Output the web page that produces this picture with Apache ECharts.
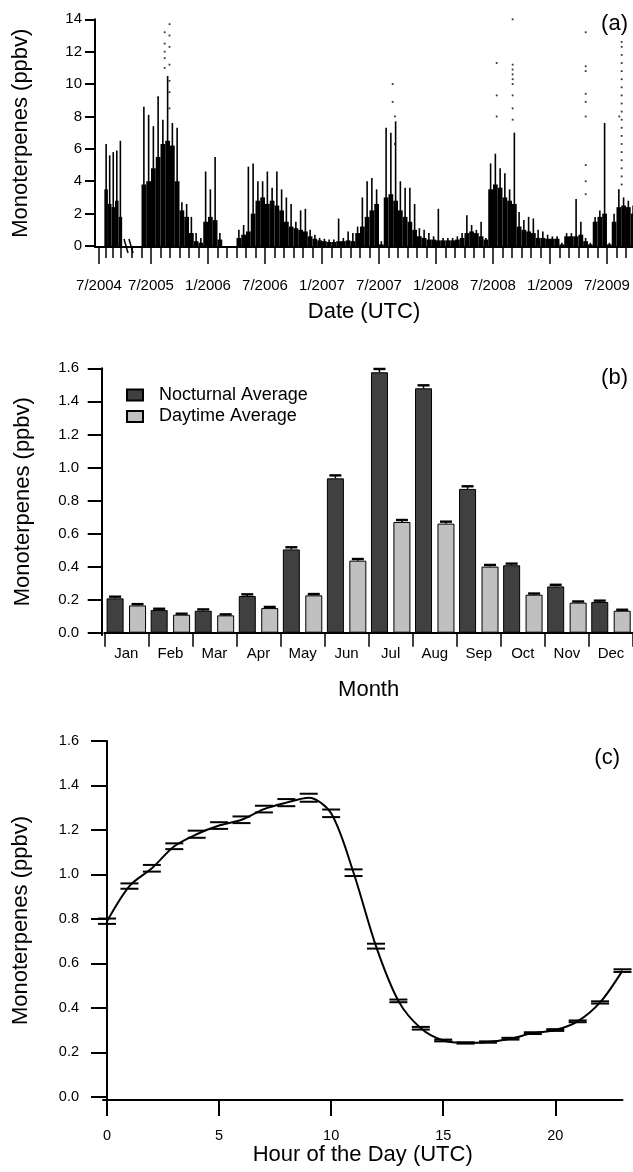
<!DOCTYPE html>
<html>
<head>
  <meta charset="utf-8">
  <script src="https://cdn.jsdelivr.net/npm/echarts@6/dist/echarts.min.js"></script>
  <style>
    html, body { margin: 0; background: #fff; }
    #chart { width: 633px; height: 1172px; }
  </style>
</head>
<body>
<div id="chart"></div>
<script>
// ---- (a) time series, month positions counted from Jan 2004 (7/2005 = 18)
// 2004 block, half-month bins (before the axis break)
var a2004Months = [7.0, 7.5, 8.0, 8.5, 9.0];
var a2004Bulk = [3.5, 2.6, 2.4, 2.8, 1.8];
var a2004Peak = [6.3, 5.6, 5.8, 5.9, 6.5];
// May 2005 onwards, half-month bins starting at 17.25
var aFirstBin = 17.25;
var aBulk = [
  3.8, 4.0, 4.8, 5.5, 6.3, 6.5, 6.2, 4.0, 2.2, 1.8,
  0.8, 0.3, 0.2, 1.5, 1.8, 1.6, 0.4, 0, 0, 0,
  0.5, 0.7, 0.9, 2.0, 2.8, 3.0, 2.6, 2.8, 2.5, 2.2,
  1.5, 1.2, 1.1, 1.0, 0.9, 0.6, 0.45, 0.35, 0.3, 0.25,
  0.25, 0.3, 0.3, 0.35, 0.3, 0.8, 1.2, 1.8, 2.2, 2.6,
  0.1, 3.0, 3.2, 2.8, 2.2, 1.8, 1.5, 1.0, 0.6, 0.5,
  0.4, 0.4, 0.35, 0.35, 0.35, 0.35, 0.4, 0.5, 0.8, 0.9,
  0.8, 0.6, 0.4, 3.5, 3.8, 3.6, 3.0, 2.8, 2.6, 1.2,
  1.0, 0.9, 0.8, 0.5, 0.5, 0.45, 0.45, 0.45, 0.1, 0.6,
  0.6, 0.6, 0.7, 0.3, 0.1, 1.5, 1.8, 2.0, 0.1, 1.5,
  2.4, 2.5, 2.4, 2.0
];
var aPeak = [
  8.6, 8.1, 7.4, 9.2, 7.8, 10.5, 7.6, 7.3, 2.7, 2.6,
  1.8, 0.8, 0.5, 4.6, 3.5, 5.5, 0.8, 0, 0, 0,
  1.0, 1.3, 4.9, 5.1, 4.0, 4.0, 4.6, 3.6, 4.6, 3.5,
  3.0, 2.6, 1.5, 2.2, 2.3, 1.0, 0.7, 0.5, 0.45, 0.4,
  0.4, 1.7, 0.5, 0.9, 0.8, 1.2, 3.0, 4.0, 4.2, 3.5,
  0.3, 7.3, 7.0, 7.7, 4.0, 3.6, 3.6, 2.6, 1.1, 1.0,
  0.8, 0.6, 2.3, 0.5, 0.5, 0.5, 0.6, 0.8, 1.9, 1.3,
  1.0, 1.5, 0.5, 5.1, 5.7, 4.8, 4.5, 3.5, 7.0, 2.1,
  1.6, 1.8, 1.7, 1.0, 0.9, 0.7, 0.6, 0.6, 0.2, 0.8,
  0.8, 2.9, 1.5, 0.5, 0.2, 1.8, 2.2, 7.6, 0.2, 2.0,
  3.5, 3.0, 2.8, 2.5
];
// isolated high readings [month, ppbv]
var aDots = [
  [18.74, 9.2],
  [19.44, 11.0], [19.44, 11.6], [19.44, 12.0], [19.44, 12.5], [19.44, 13.2],
  [19.95, 8.5], [19.95, 9.5], [19.95, 10.2], [19.95, 11.2], [19.95, 12.3], [19.95, 13.0], [19.95, 13.7],
  [43.44, 10.0], [43.44, 8.9], [43.68, 8.0], [43.68, 6.3],
  [54.39, 11.3], [54.39, 9.3], [54.39, 8.0],
  [56.07, 14.0], [56.07, 11.2], [56.07, 10.9], [56.07, 10.6], [56.07, 10.3], [56.07, 10.0], [56.07, 9.3], [56.07, 8.5], [56.07, 7.8],
  [63.76, 13.2], [63.76, 11.1], [63.76, 10.8], [63.76, 9.4], [63.76, 8.9], [63.76, 8.0], [63.76, 5.0], [63.76, 4.0], [63.76, 3.2],
  [67.3, 8.0],
  [67.55, 12.6], [67.55, 12.3], [67.55, 11.8], [67.55, 11.3], [67.55, 10.8], [67.55, 10.3], [67.55, 9.8],
  [67.55, 9.3], [67.55, 8.8], [67.55, 8.3], [67.55, 7.8], [67.55, 7.3], [67.55, 6.8], [67.55, 6.3],
  [67.55, 5.8], [67.55, 5.3], [67.55, 4.8], [67.55, 4.3], [67.55, 3.8]
];
var aLabelMonths = [6, 18, 24, 30, 36, 42, 48, 54, 60, 66];
var aLabels = ['7/2004', '7/2005', '1/2006', '7/2006', '1/2007', '7/2007', '1/2008', '7/2008', '1/2009', '7/2009'];
var aMinorMonths = [7, 8, 9];
for (var mm = 16; mm <= 68; mm++) aMinorMonths.push(mm);
var aTicksY = [0, 2, 4, 6, 8, 10, 12, 14];

// ---- (b) monthly averages
var months = ['Jan', 'Feb', 'Mar', 'Apr', 'May', 'Jun', 'Jul', 'Aug', 'Sep', 'Oct', 'Nov', 'Dec'];
var nocturnal = [0.208, 0.137, 0.133, 0.222, 0.504, 0.934, 1.576, 1.479, 0.870, 0.408, 0.280, 0.186];
var nocturnalErr = [0.010, 0.008, 0.008, 0.010, 0.013, 0.018, 0.020, 0.018, 0.016, 0.010, 0.010, 0.008];
var daytime = [0.165, 0.109, 0.105, 0.149, 0.226, 0.436, 0.670, 0.660, 0.400, 0.230, 0.182, 0.133];
var daytimeErr = [0.008, 0.006, 0.006, 0.007, 0.008, 0.010, 0.012, 0.012, 0.010, 0.007, 0.007, 0.006];
var bTicksY = [0, 0.2, 0.4, 0.6, 0.8, 1.0, 1.2, 1.4, 1.6];

// ---- (c) diurnal cycle
var hours = [0, 1, 2, 3, 4, 5, 6, 7, 8, 9, 10, 11, 12, 13, 14, 15, 16, 17, 18, 19, 20, 21, 22, 23];
var diurnal = [0.790, 0.948, 1.028, 1.127, 1.181, 1.220, 1.246, 1.294, 1.323, 1.345, 1.275, 1.008,
  0.678, 0.432, 0.309, 0.254, 0.243, 0.247, 0.262, 0.287, 0.301, 0.340, 0.425, 0.568];
var diurnalErr = [0.012, 0.012, 0.015, 0.013, 0.016, 0.015, 0.015, 0.015, 0.016, 0.018, 0.017, 0.015,
  0.011, 0.006, 0.006, 0.004, 0.003, 0.003, 0.004, 0.004, 0.004, 0.004, 0.005, 0.006];
var cTicksX = [0, 5, 10, 15, 20];
var cTicksY = [0, 0.2, 0.4, 0.6, 0.8, 1.0, 1.2, 1.4, 1.6];

var FONT = '"Liberation Sans", Arial, sans-serif';

// broken axis: the 2004 segment is squeezed in front of the break
function axisPos(m) {
  return m < 12 ? 12.526 + (m - 6) * 0.75 : m;
}

var aSeriesData = [];
for (var i = 0; i < a2004Months.length; i++) {
  aSeriesData.push([axisPos(a2004Months[i]), a2004Bulk[i], a2004Peak[i], 0.1875]);
}
for (var j = 0; j < aBulk.length; j++) {
  aSeriesData.push([aFirstBin + 0.5 * j, aBulk[j], aPeak[j], 0.25]);
}
var aDotData = aDots.map(function (d) { return [axisPos(d[0]), d[1]]; });
var breakMarks = [[15.16, 0.43, 15.58, -0.43], [15.68, 0.43, 16.11, -0.43]];

var BAR_W = 17, BAR_GAP = 5.44;
var barShift = (BAR_W + BAR_GAP) / 2;

function errCap(shift) {
  return function (params, api) {
    var p = api.coord([api.value(0), api.value(1)]);
    var q = api.coord([api.value(0), api.value(1) + api.value(2)]);
    var x = p[0] + shift;
    return {
      type: 'group',
      children: [
        { type: 'line', shape: { x1: x, y1: p[1], x2: x, y2: q[1] }, style: { stroke: '#000', lineWidth: 1.5 } },
        { type: 'line', shape: { x1: x - 6, y1: q[1], x2: x + 6, y2: q[1] }, style: { stroke: '#000', lineWidth: 2.4 } }
      ]
    };
  };
}

var axisBlack = { lineStyle: { color: '#000', width: 2 } };
var nameStyle = { color: '#000', fontFamily: FONT, fontSize: 22 };

var chart = echarts.init(document.getElementById('chart'), null, { renderer: 'canvas' });

var option = {
  animation: false,
  backgroundColor: '#fff',
  textStyle: { fontFamily: FONT, color: '#000' },
  grid: [
    { left: 95, top: 19.3, width: 538, height: 227.7 },
    { left: 104.3, top: 368.3, width: 529.2, height: 266.7 },
    { left: 103, top: 741, width: 519.5, height: 359 }
  ],
  legend: {
    orient: 'vertical',
    left: 126,
    top: 385,
    padding: 0,
    itemWidth: 16,
    itemHeight: 11,
    itemGap: 1.5,
    icon: 'rect',
    data: ['Nocturnal Average', 'Daytime Average'],
    textStyle: { fontFamily: FONT, fontSize: 18, color: '#000', lineHeight: 20, padding: [0, 0, 0, 11] }
  },
  graphic: [
    { type: 'text', right: 5, top: 13, style: { text: '(a)', font: '22px ' + FONT, fill: '#000' } },
    { type: 'text', right: 5, top: 367, style: { text: '(b)', font: '22px ' + FONT, fill: '#000' } },
    { type: 'text', right: 13, top: 747, style: { text: '(c)', font: '22px ' + FONT, fill: '#000' } }
  ],
  xAxis: [
    {
      type: 'value', gridIndex: 0, min: 12.105, max: 68.74,
      name: 'Date (UTC)', nameLocation: 'middle', nameGap: 54, nameTextStyle: nameStyle,
      axisLine: { show: true, onZero: false, lineStyle: { color: '#000', width: 2 } },
      axisTick: { show: true, length: 17, lineStyle: { color: '#000', width: 1.5 },
        customValues: aLabelMonths.map(axisPos) },
      axisLabel: { show: true, margin: 31, color: '#000', fontFamily: FONT, fontSize: 15,
        customValues: aLabelMonths.map(axisPos),
        formatter: function (v) {
          for (var k = 0; k < aLabelMonths.length; k++) {
            if (Math.abs(axisPos(aLabelMonths[k]) - v) < 0.01) return aLabels[k];
          }
          return '';
        } },
      splitLine: { show: false }
    },
    {
      type: 'value', gridIndex: 0, min: 12.105, max: 68.74, position: 'bottom',
      axisLine: { show: false, onZero: false },
      axisTick: { show: true, length: 11, lineStyle: { color: '#000', width: 1.5 },
        customValues: aMinorMonths.map(axisPos) },
      axisLabel: { show: false },
      splitLine: { show: false }
    },
    {
      type: 'category', gridIndex: 1, data: months,
      name: 'Month', nameLocation: 'middle', nameGap: 44, nameTextStyle: nameStyle,
      axisLine: axisBlack,
      axisTick: { show: true, length: 14, lineStyle: { color: '#000', width: 1.5 } },
      axisLabel: { margin: 11, color: '#000', fontFamily: FONT, fontSize: 15 }
    },
    {
      type: 'value', gridIndex: 2, min: -0.18, max: 23,
      name: 'Hour of the Day (UTC)', nameLocation: 'middle', nameGap: 39, nameTextStyle: nameStyle,
      axisLine: { show: true, onZero: false, lineStyle: { color: '#000', width: 2 } },
      axisTick: { show: true, length: 16, lineStyle: { color: '#000', width: 2 }, customValues: cTicksX },
      axisLabel: { margin: 28, color: '#000', fontFamily: FONT, fontSize: 14.5, customValues: cTicksX },
      splitLine: { show: false }
    }
  ],
  yAxis: [
    {
      type: 'value', gridIndex: 0, min: -0.06, max: 14,
      name: 'Monoterpenes (ppbv)', nameLocation: 'middle', nameGap: 63, nameTextStyle: nameStyle,
      axisLine: { show: true, lineStyle: { color: '#000', width: 2 } },
      axisTick: { show: true, length: 10, lineStyle: { color: '#000', width: 2 }, customValues: aTicksY },
      axisLabel: { margin: 13, color: '#000', fontFamily: FONT, fontSize: 15, customValues: aTicksY },
      splitLine: { show: false }
    },
    {
      type: 'value', gridIndex: 1, min: -0.0139, max: 1.6, offset: 2.6,
      name: 'Monoterpenes (ppbv)', nameLocation: 'middle', nameGap: 68, nameTextStyle: nameStyle,
      axisLine: { show: true, lineStyle: { color: '#000', width: 2 } },
      axisTick: { show: true, length: 14, lineStyle: { color: '#000', width: 2 }, customValues: bTicksY },
      axisLabel: { margin: 22.7, color: '#000', fontFamily: FONT, fontSize: 15, customValues: bTicksY,
        formatter: function (v) { return v.toFixed(1); } },
      splitLine: { show: false }
    },
    {
      type: 'value', gridIndex: 2, min: -0.0135, max: 1.6,
      name: 'Monoterpenes (ppbv)', nameLocation: 'middle', nameGap: 71, nameTextStyle: nameStyle,
      axisLine: { show: true, lineStyle: { color: '#000', width: 2 } },
      axisTick: { show: true, length: 16, lineStyle: { color: '#000', width: 2 }, customValues: cTicksY },
      axisLabel: { margin: 24, color: '#000', fontFamily: FONT, fontSize: 14.5, customValues: cTicksY,
        formatter: function (v) { return v.toFixed(1); } },
      splitLine: { show: false }
    }
  ],
  series: [
    {
      name: 'mt', type: 'custom', xAxisIndex: 0, yAxisIndex: 0,
      data: aSeriesData,
      renderItem: function (params, api) {
        var x = api.value(0), half = api.value(3);
        var l = api.coord([x - half, 0]);
        var r = api.coord([x + half, api.value(1)]);
        var c = api.coord([x, 0]);
        var pk = api.coord([x, api.value(2)]);
        return {
          type: 'group',
          children: [
            { type: 'rect', shape: { x: l[0], y: r[1], width: r[0] - l[0], height: l[1] - r[1] }, style: { fill: '#000' } },
            { type: 'line', shape: { x1: c[0], y1: c[1], x2: c[0], y2: pk[1] }, style: { stroke: '#000', lineWidth: 1.6 } }
          ]
        };
      }
    },
    {
      name: 'dots', type: 'scatter', xAxisIndex: 0, yAxisIndex: 0,
      data: aDotData, symbol: 'rect', symbolSize: 1.8,
      itemStyle: { color: '#000' }
    },
    {
      name: 'break', type: 'custom', xAxisIndex: 0, yAxisIndex: 0,
      data: breakMarks,
      renderItem: function (params, api) {
        var p = api.coord([api.value(0), api.value(1)]);
        var q = api.coord([api.value(2), api.value(3)]);
        return { type: 'line', shape: { x1: p[0], y1: p[1], x2: q[0], y2: q[1] }, style: { stroke: '#000', lineWidth: 1.5 } };
      }
    },
    {
      name: 'Nocturnal Average', type: 'bar', xAxisIndex: 2, yAxisIndex: 1,
      data: nocturnal, barWidth: BAR_W, barGap: (BAR_GAP / BAR_W * 100) + '%',
      itemStyle: { color: '#404040', borderColor: '#000', borderWidth: 1 }
    },
    {
      name: 'Daytime Average', type: 'bar', xAxisIndex: 2, yAxisIndex: 1,
      data: daytime, barWidth: BAR_W,
      itemStyle: { color: '#c0c0c0', borderColor: '#000', borderWidth: 1 }
    },
    {
      name: 'nocErr', type: 'custom', xAxisIndex: 2, yAxisIndex: 1, z: 5,
      data: nocturnal.map(function (v, k) { return [k, v, nocturnalErr[k]]; }),
      renderItem: errCap(-barShift)
    },
    {
      name: 'dayErr', type: 'custom', xAxisIndex: 2, yAxisIndex: 1, z: 5,
      data: daytime.map(function (v, k) { return [k, v, daytimeErr[k]]; }),
      renderItem: errCap(barShift)
    },
    {
      name: 'diurnal', type: 'line', xAxisIndex: 3, yAxisIndex: 2,
      data: hours.map(function (h, k) { return [h, diurnal[k]]; }),
      smooth: 0.3, symbol: 'none',
      lineStyle: { color: '#000', width: 2 }
    },
    {
      name: 'diurnalErr', type: 'custom', xAxisIndex: 3, yAxisIndex: 2, z: 5,
      data: hours.map(function (h, k) { return [h, diurnal[k], diurnalErr[k]]; }),
      renderItem: function (params, api) {
        var up = api.coord([api.value(0), api.value(1) + api.value(2)]);
        var lo = api.coord([api.value(0), api.value(1) - api.value(2)]);
        return {
          type: 'group',
          children: [
            { type: 'line', shape: { x1: up[0] - 9, y1: up[1], x2: up[0] + 9, y2: up[1] }, style: { stroke: '#000', lineWidth: 2 } },
            { type: 'line', shape: { x1: lo[0] - 9, y1: lo[1], x2: lo[0] + 9, y2: lo[1] }, style: { stroke: '#000', lineWidth: 2 } }
          ]
        };
      }
    }
  ]
};

chart.setOption(option);
window.addEventListener('resize', chart.resize);
</script>
</body>
</html>
